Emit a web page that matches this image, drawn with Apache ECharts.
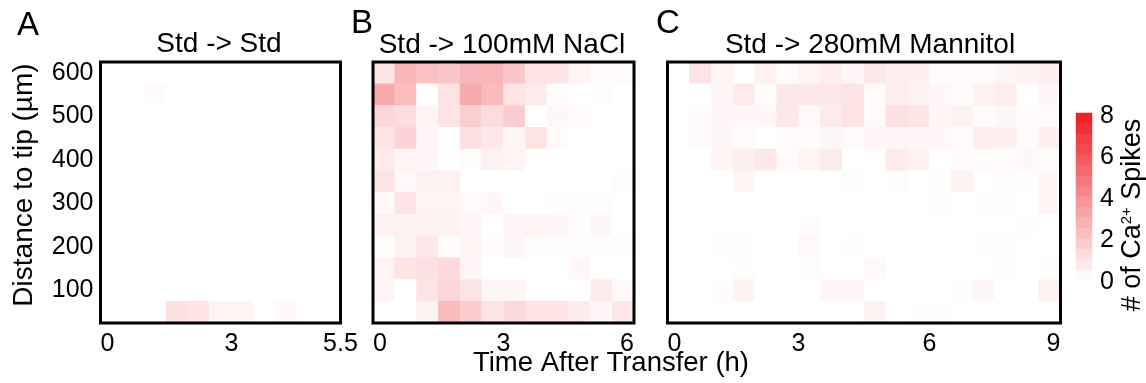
<!DOCTYPE html>
<html>
<head>
<meta charset="utf-8">
<script src="https://cdn.jsdelivr.net/npm/echarts@6/dist/echarts.min.js"></script>
<style>
  html, body { margin: 0; padding: 0; background: #fff; }
  #chart { width: 1146px; height: 383px; }
</style>
</head>
<body>
<div id="chart"></div>
<script>
// bins (centres), bottom to top for depth
const depthBins = [50, 100, 150, 200, 250, 300, 350, 400, 450, 500, 550, 600];
const depthTicks = [100, 200, 300, 400, 500, 600];
const timeBinsA = [0.25, 0.75, 1.25, 1.75, 2.25, 2.75, 3.25, 3.75, 4.25, 4.75, 5.25];
const timeBinsB = [0.25, 0.75, 1.25, 1.75, 2.25, 2.75, 3.25, 3.75, 4.25, 4.75, 5.25, 5.75];
const timeBinsC = [0.25, 0.75, 1.25, 1.75, 2.25, 2.75, 3.25, 3.75, 4.25, 4.75, 5.25, 5.75,
                   6.25, 6.75, 7.25, 7.75, 8.25, 8.75];
const timeTicksA = [0, 3, 5.5];
const timeTicksB = [0, 3, 6];
const timeTicksC = [0, 3, 6, 9];
const colorbarLevels = [0.25, 0.75, 1.25, 1.75, 2.25, 2.75, 3.25, 3.75,
                        4.25, 4.75, 5.25, 5.75, 6.25, 6.75, 7.25, 7.75];
const colorbarTicks = [0, 2, 4, 6, 8];

// mean # of Ca2+ spikes, rows from top (600 µm) to bottom (50 µm)
const spikesA = [
  [0, 0, 0, 0, 0, 0, 0, 0, 0, 0, 0],
  [0, 0, 0.15, 0, 0, 0, 0, 0, 0, 0, 0],
  [0, 0, 0, 0, 0, 0, 0, 0, 0, 0, 0],
  [0, 0, 0, 0, 0, 0, 0, 0, 0, 0, 0],
  [0, 0, 0, 0, 0, 0, 0, 0, 0, 0, 0],
  [0, 0, 0, 0, 0, 0, 0, 0, 0, 0, 0],
  [0, 0, 0, 0, 0, 0, 0, 0, 0, 0, 0],
  [0, 0, 0, 0, 0, 0, 0, 0, 0, 0, 0],
  [0, 0, 0, 0, 0, 0, 0, 0, 0, 0, 0],
  [0, 0, 0, 0, 0, 0, 0, 0, 0, 0, 0],
  [0, 0, 0, 0, 0, 0, 0, 0, 0, 0, 0],
  [0, 0, 0, 1.1, 0.9, 0.4, 0.4, 0, 0.2, 0, 0]
];
const spikesB = [
  [1.0, 2.6, 2.2, 2.0, 2.5, 2.6, 2.0, 0.9, 0.9, 0.4, 0.15, 0.15],
  [3.0, 2.3, 0, 1.0, 3.0, 2.4, 1.0, 0.7, 0.15, 0, 0.1, 0],
  [1.4, 1.2, 0.4, 1.0, 1.7, 1.2, 1.8, 0, 0.3, 0.15, 0, 0],
  [1.0, 1.5, 0.3, 0, 1.1, 0.8, 0.3, 1.0, 0.15, 0, 0, 0],
  [0.75, 0.4, 0.3, 0, 0.1, 0.5, 0.4, 0, 0, 0, 0, 0],
  [1.0, 0.25, 0.5, 0.5, 0, 0, 0, 0, 0, 0, 0, 0.1],
  [0.25, 1.0, 0.4, 0.4, 0.15, 0.3, 0, 0, 0.1, 0.1, 0.1, 0],
  [0.5, 0.5, 0.5, 0.5, 0.3, 0, 0.3, 0.4, 0.3, 0.1, 0.3, 0],
  [0.1, 0.5, 0.85, 0.1, 0.4, 0.1, 0.3, 0.1, 0.1, 0.1, 0.1, 0.1],
  [0.4, 1.0, 1.1, 1.3, 0.3, 0, 0, 0, 0, 0.3, 0, 0],
  [0.4, 0, 1.0, 1.4, 1.0, 0.3, 0.3, 0, 0, 0, 0.7, 0.2],
  [0, 0, 0.5, 2.4, 1.8, 1.0, 1.3, 1.0, 1.0, 0.7, 0.3, 0.8]
];
const spikesC = [
  [0, 1.0, 0.4, 0, 0.5, 0.15, 0.35, 0.6, 0.3, 0.8, 0.6, 0.55, 0.15, 0.15, 0.15, 0.3, 0.45, 0.6],
  [0, 0, 0.3, 0.7, 0.15, 0.8, 0.8, 0.8, 0.9, 0.15, 0.65, 0.5, 0.3, 0.15, 0.5, 0.65, 0, 0.3],
  [0, 0.15, 0.3, 0.3, 0.3, 0.8, 0.25, 0.7, 1.0, 0.15, 1.1, 0.9, 0.3, 0.5, 0.15, 0.3, 0.15, 0.15],
  [0, 0.15, 0.3, 0.15, 0, 0.15, 0.15, 0.3, 0.15, 0.3, 0.3, 0.3, 0.3, 0.15, 0.65, 0.55, 0.15, 0.55],
  [0, 0, 0.35, 0.55, 0.8, 0.15, 0.4, 0.7, 0, 0, 0.7, 0.5, 0, 0.15, 0.15, 0.15, 0.3, 0.15],
  [0, 0, 0, 0.4, 0, 0, 0, 0, 0.1, 0, 0.1, 0, 0.1, 0.5, 0, 0.1, 0.1, 0.35],
  [0, 0, 0, 0, 0, 0, 0, 0, 0, 0, 0, 0, 0.1, 0, 0.1, 0.1, 0, 0.35],
  [0, 0, 0, 0, 0, 0, 0.1, 0, 0, 0, 0, 0, 0, 0, 0, 0, 0.1, 0],
  [0, 0, 0.1, 0.1, 0, 0, 0.25, 0, 0.1, 0, 0, 0, 0, 0, 0.1, 0.1, 0, 0],
  [0, 0, 0, 0.1, 0, 0, 0.1, 0, 0, 0.25, 0, 0, 0, 0, 0, 0.1, 0, 0.1],
  [0, 0, 0.1, 0.5, 0, 0, 0, 0.3, 0.3, 0, 0, 0, 0, 0.1, 0.3, 0, 0, 0.5],
  [0, 0, 0, 0, 0, 0, 0, 0, 0, 0.5, 0, 0.08, 0.08, 0, 0, 0, 0, 0]
];

const FONT = "'Liberation Sans', Arial, Helvetica, sans-serif";
const TICK_SIZE = 25;

// rows are listed top-down, category y index counts bottom-up
function toCells(matrix) {
  const out = [];
  const n = matrix.length;
  matrix.forEach((row, r) => {
    row.forEach((v, c) => out.push([c, n - 1 - r, v]));
  });
  return out;
}

const panels = [
  { bins: timeBinsA, ticks: timeTicksA, data: spikesA, left: 100.5, width: 240, yLabels: true, alignMax: 'center' },
  { bins: timeBinsB, ticks: timeTicksB, data: spikesB, left: 373, width: 261, yLabels: false, alignMax: 'right' },
  { bins: timeBinsC, ticks: timeTicksC, data: spikesC, left: 667.5, width: 393, yLabels: false, alignMax: 'right' }
];

const grid = [], xAxis = [], yAxis = [], series = [];

panels.forEach((p, i) => {
  grid.push({
    left: p.left, top: 62, width: p.width, height: 261,
    show: true, borderColor: '#000', borderWidth: 3,
    backgroundColor: 'transparent', z: 10
  });
  // category axes carry the cells
  xAxis.push({ type: 'category', gridIndex: i, data: p.bins, show: false });
  yAxis.push({
    type: 'category', gridIndex: i, data: depthBins,
    axisLine: { show: false }, axisTick: { show: false }, splitLine: { show: false },
    axisLabel: {
      show: p.yLabels,
      interval: (idx, val) => depthTicks.includes(Number(val)),
      fontSize: TICK_SIZE, fontFamily: FONT, color: '#000', margin: 7
    }
  });
  // value axis only for the time labels
  xAxis.push({
    type: 'value', gridIndex: i, min: 0, max: p.ticks[p.ticks.length - 1],
    position: 'bottom',
    axisLine: { show: false }, axisTick: { show: false }, splitLine: { show: false },
    axisLabel: {
      customValues: p.ticks,
      alignMinLabel: 'left', alignMaxLabel: p.alignMax,
      fontSize: TICK_SIZE, fontFamily: FONT, color: '#000', margin: 9
    }
  });
  series.push({
    type: 'heatmap',
    xAxisIndex: i * 2, yAxisIndex: i,
    data: toCells(p.data),
    itemStyle: { borderWidth: 0 },
    emphasis: { disabled: true }
  });
});

// colour bar as its own little heatmap
grid.push({ left: 1076, top: 113, width: 16, height: 167 });
xAxis.push({ type: 'category', gridIndex: 3, data: ['bar'], show: false });
yAxis.push({ type: 'category', gridIndex: 3, data: colorbarLevels, show: false });
yAxis.push({
  type: 'value', gridIndex: 3, min: 0, max: 8, position: 'right',
  axisLine: { show: false }, splitLine: { show: false }, axisLabel: { show: false },
  axisTick: { show: true, inside: true, length: 4, lineStyle: { color: '#fff', width: 1 }, customValues: [2, 4, 6, 8] }
});
// labels of the colour bar sit a few px lower than the bar itself
grid.push({ left: 1076, top: 116, width: 16, height: 166 });
xAxis.push({ type: 'value', gridIndex: 4, min: 0, max: 1, show: false });
yAxis.push({
  type: 'value', gridIndex: 4, min: 0, max: 8, position: 'right',
  axisLine: { show: false }, splitLine: { show: false }, axisTick: { show: false },
  axisLabel: { customValues: colorbarTicks, fontSize: TICK_SIZE, fontFamily: FONT, color: '#000', margin: 8 }
});
series.push({
  type: 'heatmap',
  xAxisIndex: 6, yAxisIndex: 3,
  data: colorbarLevels.map((v, k) => [0, k, v]),
  emphasis: { disabled: true }
});

const txt = (text, x, y, size, extra) => Object.assign({
  type: 'text', x: x, y: y, z: 20,
  style: { text: text, fontSize: size, fontFamily: FONT, fill: '#000', align: 'center', verticalAlign: 'middle' }
}, extra || {});

const graphic = [
  txt('A', 28, 26, 33),
  txt('B', 362, 24, 33),
  txt('C', 668, 24, 33),
  txt('Std -> Std', 219, 44, 28),
  txt('Std -> 100mM NaCl', 502, 45, 28),
  txt('Std -> 280mM Mannitol', 870, 45, 28),
  txt('Time After Transfer (h)', 611, 363, 27.5),
  txt('Distance to tip (µm)', 24, 185, 28, { rotation: Math.PI / 2 }),
  {
    type: 'text', x: 1133, y: 215, z: 20, rotation: Math.PI / 2,
    style: {
      text: '# of Ca{sup|2+} Spikes',
      fontSize: 27, fontFamily: FONT, fill: '#000', align: 'center', verticalAlign: 'middle',
      rich: { sup: { fontSize: 15, fontFamily: FONT, fill: '#000', verticalAlign: 'top', padding: [0, 0, 12, 0] } }
    }
  }
];

const chart = echarts.init(document.getElementById('chart'), null, { renderer: 'canvas' });
chart.setOption({
  animation: false,
  backgroundColor: '#fff',
  grid: grid,
  xAxis: xAxis,
  yAxis: yAxis,
  visualMap: {
    type: 'continuous', min: 0, max: 8, show: false,
    seriesIndex: [0, 1, 2, 3],
    inRange: { color: ['#ffffff', '#ed1c24'] }
  },
  series: series,
  graphic: graphic
});
</script>
</body>
</html>
